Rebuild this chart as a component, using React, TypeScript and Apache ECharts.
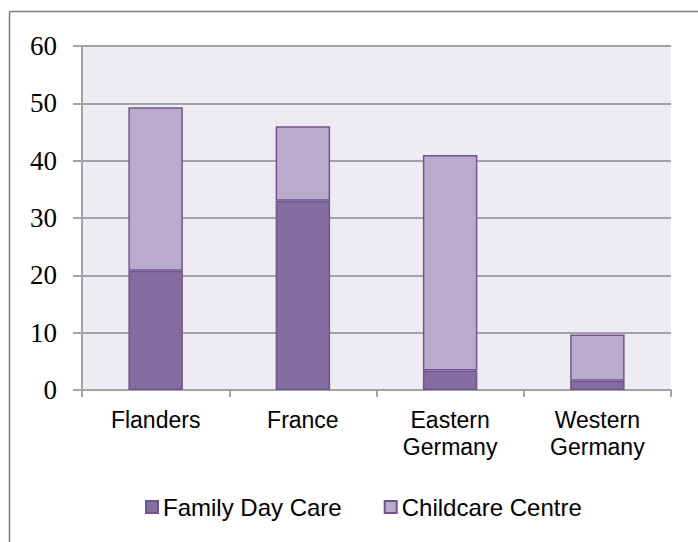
import React, { useEffect, useRef } from "react";
import * as echarts from "echarts";

const categories = ["Flanders", "France", "Eastern\nGermany", "Western\nGermany"];
const familyDayCare = [20.8, 33, 3.4, 1.6];
const childcareCentre = [28.5, 13, 37.6, 8.1];
const yTicks = { min: 0, max: 60, interval: 10 };

export default function App() {
  const ref = useRef<HTMLDivElement>(null);
  useEffect(() => {
    if (!ref.current) return;
    const chart = echarts.init(ref.current, null, { renderer: "svg" });
    const gray = "#a3a3a3";
    chart.setOption({
      animation: false,
      backgroundColor: "#ffffff",
      grid: {
        left: 82,
        right: 27,
        top: 46,
        bottom: 152,
        show: true,
        backgroundColor: "#eeecf2",
        borderWidth: 0,
      },
      legend: {
        bottom: 23,
        left: 145,
        padding: 0,
        itemWidth: 12,
        itemHeight: 12,
        itemGap: 42,
        icon: "rect",
        textStyle: { fontFamily: "Liberation Sans", fontSize: 24, color: "#000" },
        data: ["Family Day Care", "Childcare Centre"],
      },
      xAxis: {
        type: "category",
        data: categories,
        axisLine: { show: true, lineStyle: { color: gray, width: 2 } },
        axisTick: { show: true, length: 7, lineStyle: { color: gray, width: 2 } },
        axisLabel: {
          margin: 16,
          fontFamily: "Liberation Sans",
          fontSize: 23,
          lineHeight: 27,
          color: "#000",
          interval: 0,
        },
      },
      yAxis: {
        type: "value",
        min: yTicks.min,
        max: yTicks.max,
        interval: yTicks.interval,
        axisLine: { show: true, lineStyle: { color: gray, width: 2 } },
        axisTick: { show: true, length: 9, lineStyle: { color: gray, width: 2 } },
        splitLine: { show: true, lineStyle: { color: gray, width: 2 } },
        axisLabel: {
          margin: 25,
          fontFamily: "Liberation Serif",
          fontSize: 27,
          color: "#000",
        },
      },
      series: [
        {
          name: "Family Day Care",
          type: "bar",
          stack: "total",
          barWidth: "37%",
          data: familyDayCare,
          itemStyle: { color: "#856ca1", borderColor: "#6f558f", borderWidth: 1.5 },
        },
        {
          name: "Childcare Centre",
          type: "bar",
          stack: "total",
          barWidth: "37%",
          data: childcareCentre,
          itemStyle: { color: "#b9abcb", borderColor: "#6f558f", borderWidth: 1.5 },
        },
      ],
      graphic: [
        {
          type: "line",
          shape: { x1: 9.5, y1: 11.5, x2: 700, y2: 11.5 },
          style: { stroke: "#808080", lineWidth: 1.5 },
        },
        {
          type: "line",
          shape: { x1: 9.5, y1: 11.5, x2: 9.5, y2: 545 },
          style: { stroke: "#808080", lineWidth: 1.5 },
        },
      ],
    });
    return () => chart.dispose();
  }, []);
  return (
    <div
      ref={ref}
      style={{ position: "fixed", left: 0, top: 0, width: 698, height: 542 }}
    />
  );
}
